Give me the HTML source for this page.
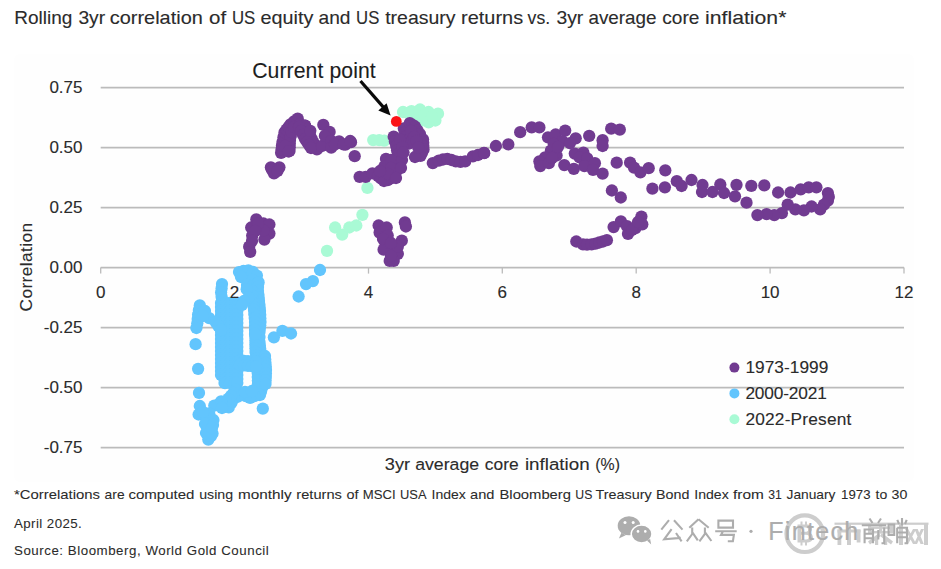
<!DOCTYPE html>
<html><head><meta charset="utf-8"><title>chart</title>
<style>html,body{margin:0;padding:0;background:#fff;width:941px;height:569px;overflow:hidden;font-family:"Liberation Sans",sans-serif}</style>
</head><body>
<svg width="941" height="569" viewBox="0 0 941 569" style="display:block;position:absolute;left:0;top:0" font-family="Liberation Sans, sans-serif" fill="#2b2b2b">
<style>text{stroke:#2b2b2b;stroke-width:0.12px}</style>
<rect width="941" height="569" fill="#ffffff"/>
<rect x="14" y="54" width="900" height="428" rx="6" fill="#fefefe"/>
<g stroke="#bbbbbb" stroke-width="1.75" fill="none">
<line x1="100.7" y1="87.6" x2="904.0" y2="87.6"/>
<line x1="100.7" y1="147.62" x2="904.0" y2="147.62"/>
<line x1="100.7" y1="207.64" x2="904.0" y2="207.64"/>
<line x1="100.7" y1="267.66" x2="904.0" y2="267.66"/>
<line x1="100.7" y1="327.68" x2="904.0" y2="327.68"/>
<line x1="100.7" y1="387.7" x2="904.0" y2="387.7"/>
<line x1="100.7" y1="447.72" x2="904.0" y2="447.72"/>
<line x1="100.7" y1="267.6" x2="100.7" y2="273.6" stroke-width="1.3"/>
<line x1="234.6" y1="267.6" x2="234.6" y2="273.6" stroke-width="1.3"/>
<line x1="368.5" y1="267.6" x2="368.5" y2="273.6" stroke-width="1.3"/>
<line x1="502.3" y1="267.6" x2="502.3" y2="273.6" stroke-width="1.3"/>
<line x1="636.2" y1="267.6" x2="636.2" y2="273.6" stroke-width="1.3"/>
<line x1="770.1" y1="267.6" x2="770.1" y2="273.6" stroke-width="1.3"/>
<line x1="904.0" y1="267.6" x2="904.0" y2="273.6" stroke-width="1.3"/>
</g>
<g fill="#a9fad5"><circle cx="403.0" cy="112.0" r="6.15"/>
<circle cx="411.5" cy="111.2" r="6.15"/>
<circle cx="420.0" cy="109.5" r="6.15"/>
<circle cx="428.6" cy="112.0" r="6.15"/>
<circle cx="438.0" cy="113.7" r="6.15"/>
<circle cx="435.4" cy="120.5" r="6.15"/>
<circle cx="428.6" cy="122.3" r="6.15"/>
<circle cx="421.8" cy="120.5" r="6.15"/>
<circle cx="415.0" cy="116.0" r="6.15"/>
<circle cx="424.0" cy="115.0" r="6.15"/>
<circle cx="432.0" cy="116.0" r="6.15"/>
<circle cx="408.0" cy="113.0" r="6.15"/>
<circle cx="373.2" cy="140.1" r="6.15"/>
<circle cx="379.2" cy="140.1" r="6.15"/>
<circle cx="384.3" cy="140.6" r="6.15"/>
<circle cx="367.4" cy="187.9" r="6.15"/>
<circle cx="362.4" cy="214.8" r="6.15"/>
<circle cx="335.1" cy="227.5" r="6.15"/>
<circle cx="342.2" cy="234.6" r="6.15"/>
<circle cx="349.3" cy="227.5" r="6.15"/>
<circle cx="356.3" cy="225.5" r="6.15"/>
<circle cx="327.0" cy="250.8" r="6.15"/></g>
<g fill="#62c5fd"><circle cx="320.0" cy="270.0" r="6.15"/>
<circle cx="312.9" cy="281.1" r="6.15"/>
<circle cx="306.0" cy="284.1" r="6.15"/>
<circle cx="298.6" cy="296.5" r="6.15"/>
<circle cx="273.9" cy="337.3" r="6.15"/>
<circle cx="282.4" cy="330.9" r="6.15"/>
<circle cx="291.0" cy="333.5" r="6.15"/>
<circle cx="262.8" cy="408.6" r="6.15"/>
<circle cx="239.0" cy="272.1" r="6.15"/>
<circle cx="243.5" cy="271.0" r="6.15"/>
<circle cx="248.4" cy="270.4" r="6.15"/>
<circle cx="253.0" cy="272.0" r="6.15"/>
<circle cx="256.9" cy="275.6" r="6.15"/>
<circle cx="246.7" cy="279.0" r="6.15"/>
<circle cx="252.0" cy="280.0" r="6.15"/>
<circle cx="258.6" cy="282.4" r="6.15"/>
<circle cx="241.0" cy="277.0" r="6.15"/>
<circle cx="247.0" cy="285.0" r="6.15"/>
<circle cx="253.0" cy="286.0" r="6.15"/>
<circle cx="258.0" cy="283.0" r="6.15"/>
<circle cx="258.0" cy="287.0" r="6.15"/>
<circle cx="258.0" cy="291.0" r="6.15"/>
<circle cx="258.3" cy="294.3" r="6.15"/>
<circle cx="258.7" cy="297.7" r="6.15"/>
<circle cx="259.0" cy="301.0" r="6.15"/>
<circle cx="259.3" cy="304.3" r="6.15"/>
<circle cx="259.7" cy="307.7" r="6.15"/>
<circle cx="260.0" cy="311.0" r="6.15"/>
<circle cx="260.2" cy="314.7" r="6.15"/>
<circle cx="260.3" cy="318.3" r="6.15"/>
<circle cx="260.5" cy="322.0" r="6.15"/>
<circle cx="260.2" cy="325.3" r="6.15"/>
<circle cx="259.8" cy="328.7" r="6.15"/>
<circle cx="259.5" cy="332.0" r="6.15"/>
<circle cx="259.5" cy="337.0" r="6.15"/>
<circle cx="259.5" cy="342.0" r="6.15"/>
<circle cx="259.8" cy="345.3" r="6.15"/>
<circle cx="260.2" cy="348.7" r="6.15"/>
<circle cx="260.5" cy="352.0" r="6.15"/>
<circle cx="261.2" cy="356.0" r="6.15"/>
<circle cx="262.0" cy="360.0" r="6.15"/>
<circle cx="262.7" cy="363.3" r="6.15"/>
<circle cx="263.3" cy="366.7" r="6.15"/>
<circle cx="264.0" cy="370.0" r="6.15"/>
<circle cx="264.0" cy="375.0" r="6.15"/>
<circle cx="264.0" cy="380.0" r="6.15"/>
<circle cx="263.0" cy="384.0" r="6.15"/>
<circle cx="262.0" cy="388.0" r="6.15"/>
<circle cx="261.0" cy="391.5" r="6.15"/>
<circle cx="260.0" cy="395.0" r="6.15"/>
<circle cx="255.3" cy="333.0" r="6.15"/>
<circle cx="255.3" cy="336.8" r="6.15"/>
<circle cx="255.4" cy="340.6" r="6.15"/>
<circle cx="255.4" cy="344.4" r="6.15"/>
<circle cx="255.5" cy="348.2" r="6.15"/>
<circle cx="255.5" cy="352.0" r="6.15"/>
<circle cx="256.2" cy="355.3" r="6.15"/>
<circle cx="256.8" cy="358.7" r="6.15"/>
<circle cx="257.5" cy="362.0" r="6.15"/>
<circle cx="257.6" cy="365.7" r="6.15"/>
<circle cx="257.6" cy="369.4" r="6.15"/>
<circle cx="257.7" cy="373.1" r="6.15"/>
<circle cx="257.8" cy="376.9" r="6.15"/>
<circle cx="257.9" cy="380.6" r="6.15"/>
<circle cx="257.9" cy="384.3" r="6.15"/>
<circle cx="258.0" cy="388.0" r="6.15"/>
<circle cx="265.0" cy="356.0" r="6.15"/>
<circle cx="265.2" cy="359.5" r="6.15"/>
<circle cx="265.5" cy="363.0" r="6.15"/>
<circle cx="265.8" cy="366.5" r="6.15"/>
<circle cx="266.0" cy="370.0" r="6.15"/>
<circle cx="265.9" cy="373.5" r="6.15"/>
<circle cx="265.8" cy="377.0" r="6.15"/>
<circle cx="265.6" cy="380.5" r="6.15"/>
<circle cx="265.5" cy="384.0" r="6.15"/>
<circle cx="252.0" cy="291.0" r="6.15"/>
<circle cx="252.5" cy="295.5" r="6.15"/>
<circle cx="253.0" cy="300.0" r="6.15"/>
<circle cx="253.3" cy="303.3" r="6.15"/>
<circle cx="253.7" cy="306.7" r="6.15"/>
<circle cx="254.0" cy="310.0" r="6.15"/>
<circle cx="254.3" cy="314.0" r="6.15"/>
<circle cx="254.7" cy="318.0" r="6.15"/>
<circle cx="255.0" cy="322.0" r="6.15"/>
<circle cx="255.0" cy="326.0" r="6.15"/>
<circle cx="255.0" cy="330.0" r="6.15"/>
<circle cx="255.0" cy="334.0" r="6.15"/>
<circle cx="246.7" cy="289.2" r="6.15"/>
<circle cx="248.4" cy="297.7" r="6.15"/>
<circle cx="239.8" cy="304.5" r="6.15"/>
<circle cx="229.6" cy="306.2" r="6.15"/>
<circle cx="244.0" cy="301.0" r="6.15"/>
<circle cx="235.0" cy="305.0" r="6.15"/>
<circle cx="222.0" cy="284.1" r="6.15"/>
<circle cx="221.6" cy="288.4" r="6.15"/>
<circle cx="221.1" cy="292.6" r="6.15"/>
<circle cx="221.6" cy="296.8" r="6.15"/>
<circle cx="222.0" cy="301.0" r="6.15"/>
<circle cx="199.8" cy="305.4" r="6.15"/>
<circle cx="198.9" cy="310.0" r="6.15"/>
<circle cx="198.1" cy="314.7" r="6.15"/>
<circle cx="197.7" cy="319.0" r="6.15"/>
<circle cx="197.3" cy="323.3" r="6.15"/>
<circle cx="196.4" cy="328.0" r="6.15"/>
<circle cx="205.0" cy="311.0" r="6.15"/>
<circle cx="209.2" cy="318.1" r="6.15"/>
<circle cx="203.0" cy="316.0" r="6.15"/>
<circle cx="195.6" cy="344.2" r="6.15"/>
<circle cx="198.1" cy="368.8" r="6.15"/>
<circle cx="199.0" cy="392.9" r="6.15"/>
<circle cx="199.8" cy="406.0" r="6.15"/>
<circle cx="198.6" cy="414.5" r="6.15"/>
<circle cx="221.0" cy="303.0" r="6.15"/>
<circle cx="225.5" cy="303.0" r="6.15"/>
<circle cx="230.0" cy="303.0" r="6.15"/>
<circle cx="234.5" cy="303.0" r="6.15"/>
<circle cx="237.3" cy="303.0" r="6.15"/>
<circle cx="221.0" cy="307.0" r="6.15"/>
<circle cx="225.5" cy="307.0" r="6.15"/>
<circle cx="230.0" cy="307.0" r="6.15"/>
<circle cx="234.5" cy="307.0" r="6.15"/>
<circle cx="237.3" cy="307.0" r="6.15"/>
<circle cx="221.0" cy="311.0" r="6.15"/>
<circle cx="225.5" cy="311.0" r="6.15"/>
<circle cx="230.0" cy="311.0" r="6.15"/>
<circle cx="234.5" cy="311.0" r="6.15"/>
<circle cx="237.3" cy="311.0" r="6.15"/>
<circle cx="221.0" cy="315.0" r="6.15"/>
<circle cx="225.5" cy="315.0" r="6.15"/>
<circle cx="230.0" cy="315.0" r="6.15"/>
<circle cx="234.5" cy="315.0" r="6.15"/>
<circle cx="237.3" cy="315.0" r="6.15"/>
<circle cx="221.0" cy="319.0" r="6.15"/>
<circle cx="225.5" cy="319.0" r="6.15"/>
<circle cx="230.0" cy="319.0" r="6.15"/>
<circle cx="234.5" cy="319.0" r="6.15"/>
<circle cx="237.3" cy="319.0" r="6.15"/>
<circle cx="221.0" cy="323.0" r="6.15"/>
<circle cx="225.5" cy="323.0" r="6.15"/>
<circle cx="230.0" cy="323.0" r="6.15"/>
<circle cx="234.5" cy="323.0" r="6.15"/>
<circle cx="237.3" cy="323.0" r="6.15"/>
<circle cx="221.0" cy="327.0" r="6.15"/>
<circle cx="225.5" cy="327.0" r="6.15"/>
<circle cx="230.0" cy="327.0" r="6.15"/>
<circle cx="234.5" cy="327.0" r="6.15"/>
<circle cx="237.3" cy="327.0" r="6.15"/>
<circle cx="221.0" cy="331.0" r="6.15"/>
<circle cx="225.5" cy="331.0" r="6.15"/>
<circle cx="230.0" cy="331.0" r="6.15"/>
<circle cx="234.5" cy="331.0" r="6.15"/>
<circle cx="237.3" cy="331.0" r="6.15"/>
<circle cx="221.0" cy="335.0" r="6.15"/>
<circle cx="225.5" cy="335.0" r="6.15"/>
<circle cx="230.0" cy="335.0" r="6.15"/>
<circle cx="234.5" cy="335.0" r="6.15"/>
<circle cx="237.3" cy="335.0" r="6.15"/>
<circle cx="221.0" cy="339.0" r="6.15"/>
<circle cx="225.5" cy="339.0" r="6.15"/>
<circle cx="230.0" cy="339.0" r="6.15"/>
<circle cx="234.5" cy="339.0" r="6.15"/>
<circle cx="237.3" cy="339.0" r="6.15"/>
<circle cx="221.0" cy="343.0" r="6.15"/>
<circle cx="225.5" cy="343.0" r="6.15"/>
<circle cx="230.0" cy="343.0" r="6.15"/>
<circle cx="234.5" cy="343.0" r="6.15"/>
<circle cx="237.3" cy="343.0" r="6.15"/>
<circle cx="221.0" cy="347.0" r="6.15"/>
<circle cx="225.5" cy="347.0" r="6.15"/>
<circle cx="230.0" cy="347.0" r="6.15"/>
<circle cx="234.5" cy="347.0" r="6.15"/>
<circle cx="237.3" cy="347.0" r="6.15"/>
<circle cx="221.0" cy="351.0" r="6.15"/>
<circle cx="225.5" cy="351.0" r="6.15"/>
<circle cx="230.0" cy="351.0" r="6.15"/>
<circle cx="234.5" cy="351.0" r="6.15"/>
<circle cx="237.3" cy="351.0" r="6.15"/>
<circle cx="221.0" cy="355.0" r="6.15"/>
<circle cx="225.5" cy="355.0" r="6.15"/>
<circle cx="230.0" cy="355.0" r="6.15"/>
<circle cx="234.5" cy="355.0" r="6.15"/>
<circle cx="237.3" cy="355.0" r="6.15"/>
<circle cx="221.0" cy="359.0" r="6.15"/>
<circle cx="225.5" cy="359.0" r="6.15"/>
<circle cx="230.0" cy="359.0" r="6.15"/>
<circle cx="234.5" cy="359.0" r="6.15"/>
<circle cx="237.3" cy="359.0" r="6.15"/>
<circle cx="221.0" cy="363.0" r="6.15"/>
<circle cx="225.5" cy="363.0" r="6.15"/>
<circle cx="230.0" cy="363.0" r="6.15"/>
<circle cx="234.5" cy="363.0" r="6.15"/>
<circle cx="237.3" cy="363.0" r="6.15"/>
<circle cx="221.0" cy="367.0" r="6.15"/>
<circle cx="225.5" cy="367.0" r="6.15"/>
<circle cx="230.0" cy="367.0" r="6.15"/>
<circle cx="234.5" cy="367.0" r="6.15"/>
<circle cx="237.3" cy="367.0" r="6.15"/>
<circle cx="221.0" cy="371.0" r="6.15"/>
<circle cx="225.5" cy="371.0" r="6.15"/>
<circle cx="230.0" cy="371.0" r="6.15"/>
<circle cx="234.5" cy="371.0" r="6.15"/>
<circle cx="237.3" cy="371.0" r="6.15"/>
<circle cx="221.0" cy="375.0" r="6.15"/>
<circle cx="225.5" cy="375.0" r="6.15"/>
<circle cx="230.0" cy="375.0" r="6.15"/>
<circle cx="234.5" cy="375.0" r="6.15"/>
<circle cx="237.3" cy="375.0" r="6.15"/>
<circle cx="224.5" cy="379.0" r="6.15"/>
<circle cx="225.5" cy="379.0" r="6.15"/>
<circle cx="230.0" cy="379.0" r="6.15"/>
<circle cx="234.5" cy="379.0" r="6.15"/>
<circle cx="237.3" cy="379.0" r="6.15"/>
<circle cx="224.5" cy="383.0" r="6.15"/>
<circle cx="225.5" cy="383.0" r="6.15"/>
<circle cx="230.0" cy="383.0" r="6.15"/>
<circle cx="234.5" cy="383.0" r="6.15"/>
<circle cx="237.3" cy="383.0" r="6.15"/>
<circle cx="215.5" cy="322.0" r="6.15"/>
<circle cx="218.2" cy="326.0" r="6.15"/>
<circle cx="221.0" cy="330.0" r="6.15"/>
<circle cx="242.0" cy="305.0" r="6.15"/>
<circle cx="240.0" cy="360.5" r="6.15"/>
<circle cx="244.0" cy="360.9" r="6.15"/>
<circle cx="248.0" cy="361.2" r="6.15"/>
<circle cx="252.0" cy="361.6" r="6.15"/>
<circle cx="256.0" cy="362.0" r="6.15"/>
<circle cx="240.0" cy="365.0" r="6.15"/>
<circle cx="244.0" cy="365.4" r="6.15"/>
<circle cx="248.0" cy="365.8" r="6.15"/>
<circle cx="252.0" cy="366.1" r="6.15"/>
<circle cx="256.0" cy="366.5" r="6.15"/>
<circle cx="258.6" cy="394.5" r="6.15"/>
<circle cx="254.4" cy="396.2" r="6.15"/>
<circle cx="250.1" cy="397.9" r="6.15"/>
<circle cx="245.8" cy="396.2" r="6.15"/>
<circle cx="241.6" cy="394.5" r="6.15"/>
<circle cx="237.8" cy="396.6" r="6.15"/>
<circle cx="233.9" cy="398.7" r="6.15"/>
<circle cx="231.4" cy="403.0" r="6.15"/>
<circle cx="228.8" cy="407.3" r="6.15"/>
<circle cx="236.0" cy="390.0" r="6.15"/>
<circle cx="233.5" cy="392.9" r="6.15"/>
<circle cx="231.0" cy="395.8" r="6.15"/>
<circle cx="228.5" cy="398.6" r="6.15"/>
<circle cx="226.0" cy="401.5" r="6.15"/>
<circle cx="221.8" cy="403.2" r="6.15"/>
<circle cx="217.7" cy="405.0" r="6.15"/>
<circle cx="214.3" cy="405.6" r="6.15"/>
<circle cx="221.1" cy="401.3" r="6.15"/>
<circle cx="209.2" cy="413.5" r="6.15"/>
<circle cx="206.6" cy="419.2" r="6.15"/>
<circle cx="213.4" cy="420.0" r="6.15"/>
<circle cx="207.5" cy="428.6" r="6.15"/>
<circle cx="210.9" cy="431.1" r="6.15"/>
<circle cx="208.3" cy="439.6" r="6.15"/>
<circle cx="210.9" cy="436.2" r="6.15"/>
<circle cx="203.0" cy="412.0" r="6.15"/>
<circle cx="210.0" cy="424.0" r="6.15"/>
<circle cx="222.0" cy="408.0" r="6.15"/>
<circle cx="245.0" cy="392.0" r="6.15"/>
<circle cx="252.0" cy="391.0" r="6.15"/>
<circle cx="205.0" cy="424.0" r="6.15"/>
<circle cx="213.0" cy="425.0" r="6.15"/>
<circle cx="206.0" cy="433.0" r="6.15"/>
<circle cx="212.5" cy="433.5" r="6.15"/>
<circle cx="212.0" cy="428.0" r="6.15"/></g>
<g fill="#713b91"><circle cx="270.9" cy="167.3" r="6.15"/>
<circle cx="279.4" cy="167.3" r="6.15"/>
<circle cx="274.0" cy="173.3" r="6.15"/>
<circle cx="272.0" cy="170.0" r="6.15"/>
<circle cx="277.5" cy="171.0" r="6.15"/>
<circle cx="281.1" cy="152.8" r="6.15"/>
<circle cx="281.6" cy="149.2" r="6.15"/>
<circle cx="282.0" cy="145.6" r="6.15"/>
<circle cx="282.5" cy="142.0" r="6.15"/>
<circle cx="283.5" cy="137.2" r="6.15"/>
<circle cx="284.5" cy="132.4" r="6.15"/>
<circle cx="286.5" cy="129.7" r="6.15"/>
<circle cx="288.5" cy="127.0" r="6.15"/>
<circle cx="290.5" cy="124.3" r="6.15"/>
<circle cx="294.1" cy="121.4" r="6.15"/>
<circle cx="297.7" cy="118.6" r="6.15"/>
<circle cx="289.5" cy="151.0" r="6.15"/>
<circle cx="289.7" cy="147.3" r="6.15"/>
<circle cx="289.8" cy="143.7" r="6.15"/>
<circle cx="290.0" cy="140.0" r="6.15"/>
<circle cx="290.8" cy="136.0" r="6.15"/>
<circle cx="291.5" cy="132.0" r="6.15"/>
<circle cx="285.0" cy="146.0" r="6.15"/>
<circle cx="288.5" cy="151.5" r="6.15"/>
<circle cx="294.0" cy="127.0" r="6.15"/>
<circle cx="300.0" cy="124.0" r="6.15"/>
<circle cx="305.0" cy="125.6" r="6.15"/>
<circle cx="305.0" cy="125.6" r="6.15"/>
<circle cx="306.7" cy="129.0" r="6.15"/>
<circle cx="308.4" cy="132.4" r="6.15"/>
<circle cx="310.1" cy="135.8" r="6.15"/>
<circle cx="311.8" cy="139.2" r="6.15"/>
<circle cx="313.5" cy="142.6" r="6.15"/>
<circle cx="315.2" cy="146.0" r="6.15"/>
<circle cx="316.9" cy="149.4" r="6.15"/>
<circle cx="299.0" cy="127.0" r="6.15"/>
<circle cx="301.0" cy="131.0" r="6.15"/>
<circle cx="303.0" cy="135.0" r="6.15"/>
<circle cx="305.0" cy="139.0" r="6.15"/>
<circle cx="307.0" cy="142.0" r="6.15"/>
<circle cx="309.0" cy="145.0" r="6.15"/>
<circle cx="311.0" cy="148.0" r="6.15"/>
<circle cx="322.0" cy="146.0" r="6.15"/>
<circle cx="310.3" cy="130.8" r="6.15"/>
<circle cx="323.3" cy="124.8" r="6.15"/>
<circle cx="329.6" cy="131.9" r="6.15"/>
<circle cx="324.9" cy="135.9" r="6.15"/>
<circle cx="331.2" cy="140.9" r="6.15"/>
<circle cx="331.2" cy="147.7" r="6.15"/>
<circle cx="339.1" cy="141.4" r="6.15"/>
<circle cx="345.4" cy="144.6" r="6.15"/>
<circle cx="351.0" cy="142.2" r="6.15"/>
<circle cx="335.0" cy="144.5" r="6.15"/>
<circle cx="354.7" cy="156.2" r="6.15"/>
<circle cx="343.4" cy="144.4" r="6.15"/>
<circle cx="350.2" cy="141.0" r="6.15"/>
<circle cx="359.6" cy="176.8" r="6.15"/>
<circle cx="365.6" cy="176.8" r="6.15"/>
<circle cx="372.4" cy="173.4" r="6.15"/>
<circle cx="378.0" cy="176.0" r="6.15"/>
<circle cx="380.9" cy="178.5" r="6.15"/>
<circle cx="387.7" cy="180.2" r="6.15"/>
<circle cx="384.0" cy="181.0" r="6.15"/>
<circle cx="392.0" cy="178.0" r="6.15"/>
<circle cx="393.7" cy="136.7" r="6.15"/>
<circle cx="394.9" cy="141.4" r="6.15"/>
<circle cx="396.2" cy="146.1" r="6.15"/>
<circle cx="397.1" cy="150.3" r="6.15"/>
<circle cx="398.0" cy="154.6" r="6.15"/>
<circle cx="397.5" cy="158.8" r="6.15"/>
<circle cx="397.0" cy="163.0" r="6.15"/>
<circle cx="396.5" cy="167.5" r="6.15"/>
<circle cx="396.0" cy="172.0" r="6.15"/>
<circle cx="386.0" cy="158.9" r="6.15"/>
<circle cx="384.3" cy="166.5" r="6.15"/>
<circle cx="391.0" cy="160.0" r="6.15"/>
<circle cx="391.0" cy="168.0" r="6.15"/>
<circle cx="388.0" cy="174.0" r="6.15"/>
<circle cx="380.0" cy="171.0" r="6.15"/>
<circle cx="402.0" cy="160.0" r="6.15"/>
<circle cx="401.0" cy="168.0" r="6.15"/>
<circle cx="396.0" cy="178.0" r="6.15"/>
<circle cx="403.8" cy="128.5" r="6.15"/>
<circle cx="405.0" cy="132.4" r="6.15"/>
<circle cx="406.2" cy="136.4" r="6.15"/>
<circle cx="407.8" cy="139.9" r="6.15"/>
<circle cx="409.3" cy="143.5" r="6.15"/>
<circle cx="409.8" cy="123.1" r="6.15"/>
<circle cx="412.4" cy="124.8" r="6.15"/>
<circle cx="415.0" cy="126.5" r="6.15"/>
<circle cx="417.5" cy="130.3" r="6.15"/>
<circle cx="420.0" cy="134.2" r="6.15"/>
<circle cx="423.0" cy="139.3" r="6.15"/>
<circle cx="423.2" cy="142.7" r="6.15"/>
<circle cx="423.3" cy="146.1" r="6.15"/>
<circle cx="423.5" cy="149.5" r="6.15"/>
<circle cx="422.0" cy="152.7" r="6.15"/>
<circle cx="420.5" cy="155.8" r="6.15"/>
<circle cx="415.0" cy="157.0" r="6.15"/>
<circle cx="411.0" cy="131.0" r="6.15"/>
<circle cx="414.0" cy="137.0" r="6.15"/>
<circle cx="400.0" cy="139.5" r="6.15"/>
<circle cx="402.5" cy="147.0" r="6.15"/>
<circle cx="416.5" cy="141.0" r="6.15"/>
<circle cx="418.3" cy="147.5" r="6.15"/>
<circle cx="403.5" cy="152.5" r="6.15"/>
<circle cx="432.8" cy="163.1" r="6.15"/>
<circle cx="438.8" cy="160.6" r="6.15"/>
<circle cx="443.0" cy="159.5" r="6.15"/>
<circle cx="447.3" cy="158.9" r="6.15"/>
<circle cx="451.5" cy="160.0" r="6.15"/>
<circle cx="455.8" cy="161.4" r="6.15"/>
<circle cx="460.5" cy="161.8" r="6.15"/>
<circle cx="465.2" cy="161.4" r="6.15"/>
<circle cx="472.9" cy="156.3" r="6.15"/>
<circle cx="478.0" cy="155.0" r="6.15"/>
<circle cx="484.0" cy="152.9" r="6.15"/>
<circle cx="484.2" cy="153.2" r="6.15"/>
<circle cx="495.9" cy="146.0" r="6.15"/>
<circle cx="508.3" cy="144.4" r="6.15"/>
<circle cx="520.2" cy="132.2" r="6.15"/>
<circle cx="531.7" cy="127.4" r="6.15"/>
<circle cx="539.4" cy="127.4" r="6.15"/>
<circle cx="548.0" cy="137.3" r="6.15"/>
<circle cx="555.6" cy="134.5" r="6.15"/>
<circle cx="565.2" cy="130.6" r="6.15"/>
<circle cx="562.3" cy="141.2" r="6.15"/>
<circle cx="553.7" cy="144.0" r="6.15"/>
<circle cx="575.7" cy="138.3" r="6.15"/>
<circle cx="570.0" cy="143.1" r="6.15"/>
<circle cx="589.2" cy="135.8" r="6.15"/>
<circle cx="602.6" cy="140.2" r="6.15"/>
<circle cx="602.6" cy="146.0" r="6.15"/>
<circle cx="611.2" cy="128.7" r="6.15"/>
<circle cx="619.8" cy="129.7" r="6.15"/>
<circle cx="550.9" cy="150.7" r="6.15"/>
<circle cx="556.6" cy="155.5" r="6.15"/>
<circle cx="545.1" cy="157.4" r="6.15"/>
<circle cx="539.4" cy="161.3" r="6.15"/>
<circle cx="540.3" cy="166.1" r="6.15"/>
<circle cx="548.9" cy="163.2" r="6.15"/>
<circle cx="574.8" cy="153.6" r="6.15"/>
<circle cx="583.4" cy="152.7" r="6.15"/>
<circle cx="579.6" cy="157.4" r="6.15"/>
<circle cx="587.2" cy="158.4" r="6.15"/>
<circle cx="564.3" cy="165.1" r="6.15"/>
<circle cx="573.8" cy="168.9" r="6.15"/>
<circle cx="584.4" cy="166.1" r="6.15"/>
<circle cx="594.9" cy="163.2" r="6.15"/>
<circle cx="593.0" cy="169.9" r="6.15"/>
<circle cx="602.6" cy="173.7" r="6.15"/>
<circle cx="616.7" cy="162.7" r="6.15"/>
<circle cx="630.1" cy="162.7" r="6.15"/>
<circle cx="634.0" cy="167.6" r="6.15"/>
<circle cx="640.4" cy="172.3" r="6.15"/>
<circle cx="648.7" cy="168.2" r="6.15"/>
<circle cx="665.3" cy="170.3" r="6.15"/>
<circle cx="611.9" cy="190.5" r="6.15"/>
<circle cx="620.8" cy="197.5" r="6.15"/>
<circle cx="652.4" cy="188.7" r="6.15"/>
<circle cx="664.9" cy="187.3" r="6.15"/>
<circle cx="558.0" cy="147.0" r="6.15"/>
<circle cx="552.0" cy="158.0" r="6.15"/>
<circle cx="676.8" cy="181.2" r="6.15"/>
<circle cx="681.6" cy="186.0" r="6.15"/>
<circle cx="691.5" cy="180.0" r="6.15"/>
<circle cx="702.5" cy="185.0" r="6.15"/>
<circle cx="702.0" cy="192.0" r="6.15"/>
<circle cx="712.5" cy="192.0" r="6.15"/>
<circle cx="720.3" cy="184.5" r="6.15"/>
<circle cx="724.0" cy="193.0" r="6.15"/>
<circle cx="736.5" cy="184.8" r="6.15"/>
<circle cx="735.0" cy="196.3" r="6.15"/>
<circle cx="751.3" cy="185.8" r="6.15"/>
<circle cx="764.3" cy="185.4" r="6.15"/>
<circle cx="746.5" cy="202.7" r="6.15"/>
<circle cx="778.1" cy="192.5" r="6.15"/>
<circle cx="790.5" cy="192.5" r="6.15"/>
<circle cx="800.7" cy="189.3" r="6.15"/>
<circle cx="808.7" cy="187.3" r="6.15"/>
<circle cx="816.4" cy="187.3" r="6.15"/>
<circle cx="827.9" cy="193.1" r="6.15"/>
<circle cx="828.8" cy="196.9" r="6.15"/>
<circle cx="827.9" cy="200.7" r="6.15"/>
<circle cx="824.0" cy="204.6" r="6.15"/>
<circle cx="820.2" cy="209.4" r="6.15"/>
<circle cx="811.6" cy="206.5" r="6.15"/>
<circle cx="803.9" cy="210.3" r="6.15"/>
<circle cx="795.3" cy="209.4" r="6.15"/>
<circle cx="787.7" cy="204.6" r="6.15"/>
<circle cx="781.9" cy="213.2" r="6.15"/>
<circle cx="774.3" cy="215.1" r="6.15"/>
<circle cx="766.6" cy="214.2" r="6.15"/>
<circle cx="757.4" cy="215.1" r="6.15"/>
<circle cx="576.3" cy="241.5" r="6.15"/>
<circle cx="583.0" cy="244.4" r="6.15"/>
<circle cx="587.0" cy="244.6" r="6.15"/>
<circle cx="591.6" cy="244.4" r="6.15"/>
<circle cx="595.5" cy="243.6" r="6.15"/>
<circle cx="599.3" cy="242.5" r="6.15"/>
<circle cx="603.0" cy="241.5" r="6.15"/>
<circle cx="606.9" cy="240.2" r="6.15"/>
<circle cx="613.6" cy="227.1" r="6.15"/>
<circle cx="620.9" cy="221.4" r="6.15"/>
<circle cx="627.0" cy="226.2" r="6.15"/>
<circle cx="628.0" cy="233.8" r="6.15"/>
<circle cx="635.6" cy="228.1" r="6.15"/>
<circle cx="641.4" cy="216.6" r="6.15"/>
<circle cx="642.3" cy="224.3" r="6.15"/>
<circle cx="632.0" cy="230.0" r="6.15"/>
<circle cx="638.0" cy="222.0" r="6.15"/>
<circle cx="256.3" cy="219.4" r="6.15"/>
<circle cx="251.2" cy="227.5" r="6.15"/>
<circle cx="252.2" cy="235.6" r="6.15"/>
<circle cx="249.2" cy="246.7" r="6.15"/>
<circle cx="250.2" cy="251.8" r="6.15"/>
<circle cx="263.4" cy="223.5" r="6.15"/>
<circle cx="269.4" cy="224.5" r="6.15"/>
<circle cx="269.4" cy="233.6" r="6.15"/>
<circle cx="264.4" cy="239.6" r="6.15"/>
<circle cx="263.4" cy="230.5" r="6.15"/>
<circle cx="258.0" cy="224.0" r="6.15"/>
<circle cx="255.0" cy="231.0" r="6.15"/>
<circle cx="252.0" cy="241.0" r="6.15"/>
<circle cx="378.6" cy="225.5" r="6.15"/>
<circle cx="379.6" cy="232.6" r="6.15"/>
<circle cx="386.7" cy="227.5" r="6.15"/>
<circle cx="387.7" cy="235.6" r="6.15"/>
<circle cx="385.6" cy="244.7" r="6.15"/>
<circle cx="383.6" cy="249.7" r="6.15"/>
<circle cx="391.7" cy="250.8" r="6.15"/>
<circle cx="397.8" cy="253.8" r="6.15"/>
<circle cx="389.7" cy="260.9" r="6.15"/>
<circle cx="393.7" cy="260.9" r="6.15"/>
<circle cx="401.8" cy="240.6" r="6.15"/>
<circle cx="404.9" cy="222.4" r="6.15"/>
<circle cx="405.9" cy="226.5" r="6.15"/>
<circle cx="397.8" cy="246.7" r="6.15"/>
<circle cx="383.0" cy="239.0" r="6.15"/>
<circle cx="391.0" cy="243.0" r="6.15"/>
<circle cx="391.0" cy="256.0" r="6.15"/></g>
<circle cx="396.3" cy="121.4" r="5.4" fill="#fb1418"/>
<g font-size="17" text-anchor="end">
<text x="82.5" y="92.8">0.75</text>
<text x="82.5" y="152.8">0.50</text>
<text x="82.5" y="212.8">0.25</text>
<text x="82.5" y="272.9">0.00</text>
<text x="82.5" y="332.9">-0.25</text>
<text x="82.5" y="392.9">-0.50</text>
<text x="82.5" y="452.9">-0.75</text>
</g>
<g font-size="17" text-anchor="middle">
<text x="100.7" y="298.3">0</text>
<text x="234.6" y="298.3">2</text>
<text x="368.5" y="298.3">4</text>
<text x="502.3" y="298.3">6</text>
<text x="636.2" y="298.3">8</text>
<text x="770.1" y="298.3">10</text>
<text x="904.0" y="298.3">12</text>
</g>
<text transform="translate(31.6,267.2) rotate(-90)" font-size="17.2" text-anchor="middle" textLength="88.5" lengthAdjust="spacing">Correlation</text>
<text x="384.8" y="469.8" font-size="16.8" textLength="25.2" lengthAdjust="spacingAndGlyphs">3yr</text>
<text x="415.2" y="469.8" font-size="16.8" textLength="63.9" lengthAdjust="spacingAndGlyphs">average</text>
<text x="484.8" y="469.8" font-size="16.8" textLength="33.8" lengthAdjust="spacingAndGlyphs">core</text>
<text x="524.9" y="469.8" font-size="16.8" textLength="64.7" lengthAdjust="spacingAndGlyphs">inflation</text>
<text x="595.3" y="469.8" font-size="16.8" textLength="24.7" lengthAdjust="spacingAndGlyphs">(%)</text>
<text x="14.2" y="23.5" font-size="17.9" textLength="58.1" lengthAdjust="spacingAndGlyphs">Rolling</text>
<text x="78.4" y="23.5" font-size="17.9" textLength="26.7" lengthAdjust="spacingAndGlyphs">3yr</text>
<text x="109.8" y="23.5" font-size="17.9" textLength="93.0" lengthAdjust="spacingAndGlyphs">correlation</text>
<text x="209.1" y="23.5" font-size="17.9" textLength="17.1" lengthAdjust="spacingAndGlyphs">of</text>
<text x="232.0" y="23.5" font-size="17.9" textLength="23.3" lengthAdjust="spacingAndGlyphs">US</text>
<text x="260.5" y="23.5" font-size="17.9" textLength="52.8" lengthAdjust="spacingAndGlyphs">equity</text>
<text x="318.5" y="23.5" font-size="17.9" textLength="32.0" lengthAdjust="spacingAndGlyphs">and</text>
<text x="356.1" y="23.5" font-size="17.9" textLength="23.2" lengthAdjust="spacingAndGlyphs">US</text>
<text x="385.2" y="23.5" font-size="17.9" textLength="70.3" lengthAdjust="spacingAndGlyphs">treasury</text>
<text x="461.1" y="23.5" font-size="17.9" textLength="62.0" lengthAdjust="spacingAndGlyphs">returns</text>
<text x="527.6" y="23.5" font-size="17.9" textLength="22.5" lengthAdjust="spacingAndGlyphs">vs.</text>
<text x="556.4" y="23.5" font-size="17.9" textLength="26.9" lengthAdjust="spacingAndGlyphs">3yr</text>
<text x="588.5" y="23.5" font-size="17.9" textLength="68.0" lengthAdjust="spacingAndGlyphs">average</text>
<text x="662.3" y="23.5" font-size="17.9" textLength="37.1" lengthAdjust="spacingAndGlyphs">core</text>
<text x="705.1" y="23.5" font-size="17.9" textLength="81.3" lengthAdjust="spacingAndGlyphs">inflation*</text>
<text x="252.2" y="78.4" font-size="21.2" fill="#1c1c1c" textLength="123.5" lengthAdjust="spacing">Current point</text>
<line x1="360.5" y1="81" x2="385.5" y2="109.6" stroke="#0a0a0a" stroke-width="3.2"/>
<polygon points="390.6,115.4 378.3,110.6 386.6,103.3" fill="#0a0a0a"/>
<circle cx="734.4" cy="367.6" r="5" fill="#713b91"/>
<text x="745.4" y="373.4" font-size="17.3" textLength="83" lengthAdjust="spacing">1973-1999</text>
<circle cx="734.4" cy="393.4" r="5" fill="#62c5fd"/>
<text x="745.4" y="399.2" font-size="17.3" textLength="81.5" lengthAdjust="spacing">2000-2021</text>
<circle cx="734.4" cy="419.2" r="5" fill="#a9fad5"/>
<text x="745.4" y="425.0" font-size="17.3" textLength="106" lengthAdjust="spacing">2022-Present</text>
<g font-size="13.3">
<text x="14.0" y="499.4" font-size="13.3" textLength="86.0" lengthAdjust="spacingAndGlyphs" style="stroke-width:0.08px">*Correlations</text>
<text x="104.6" y="499.4" font-size="13.3" textLength="20.0" lengthAdjust="spacingAndGlyphs" style="stroke-width:0.08px">are</text>
<text x="128.4" y="499.4" font-size="13.3" textLength="66.1" lengthAdjust="spacingAndGlyphs" style="stroke-width:0.08px">computed</text>
<text x="199.2" y="499.4" font-size="13.3" textLength="33.9" lengthAdjust="spacingAndGlyphs" style="stroke-width:0.08px">using</text>
<text x="238.1" y="499.4" font-size="13.3" textLength="53.5" lengthAdjust="spacingAndGlyphs" style="stroke-width:0.08px">monthly</text>
<text x="296.3" y="499.4" font-size="13.3" textLength="45.6" lengthAdjust="spacingAndGlyphs" style="stroke-width:0.08px">returns</text>
<text x="346.5" y="499.4" font-size="13.3" textLength="12.0" lengthAdjust="spacingAndGlyphs" style="stroke-width:0.08px">of</text>
<text x="362.8" y="499.4" font-size="13.3" textLength="32.9" lengthAdjust="spacingAndGlyphs" style="stroke-width:0.08px">MSCI</text>
<text x="400.0" y="499.4" font-size="13.3" textLength="26.5" lengthAdjust="spacingAndGlyphs" style="stroke-width:0.08px">USA</text>
<text x="431.5" y="499.4" font-size="13.3" textLength="34.3" lengthAdjust="spacingAndGlyphs" style="stroke-width:0.08px">Index</text>
<text x="470.1" y="499.4" font-size="13.3" textLength="24.4" lengthAdjust="spacingAndGlyphs" style="stroke-width:0.08px">and</text>
<text x="499.5" y="499.4" font-size="13.3" textLength="71.5" lengthAdjust="spacingAndGlyphs" style="stroke-width:0.08px">Bloomberg</text>
<text x="575.3" y="499.4" font-size="13.3" textLength="17.0" lengthAdjust="spacingAndGlyphs" style="stroke-width:0.08px">US</text>
<text x="595.5" y="499.4" font-size="13.3" textLength="56.3" lengthAdjust="spacingAndGlyphs" style="stroke-width:0.08px">Treasury</text>
<text x="656.1" y="499.4" font-size="13.3" textLength="33.3" lengthAdjust="spacingAndGlyphs" style="stroke-width:0.08px">Bond</text>
<text x="694.3" y="499.4" font-size="13.3" textLength="34.4" lengthAdjust="spacingAndGlyphs" style="stroke-width:0.08px">Index</text>
<text x="733.0" y="499.4" font-size="13.3" textLength="30.8" lengthAdjust="spacingAndGlyphs" style="stroke-width:0.08px">from</text>
<text x="768.2" y="499.4" font-size="13.3" textLength="13.6" lengthAdjust="spacingAndGlyphs" style="stroke-width:0.08px">31</text>
<text x="786.5" y="499.4" font-size="13.3" textLength="49.0" lengthAdjust="spacingAndGlyphs" style="stroke-width:0.08px">January</text>
<text x="841.1" y="499.4" font-size="13.3" textLength="29.4" lengthAdjust="spacingAndGlyphs" style="stroke-width:0.08px">1973</text>
<text x="875.5" y="499.4" font-size="13.3" textLength="11.7" lengthAdjust="spacingAndGlyphs" style="stroke-width:0.08px">to</text>
<text x="891.5" y="499.4" font-size="13.3" textLength="15.8" lengthAdjust="spacingAndGlyphs" style="stroke-width:0.08px">30</text>
<text x="14" y="527.5" textLength="67.8" lengthAdjust="spacing" style="stroke-width:0.08px">April 2025.</text>
<text x="14" y="554.5" textLength="254.8" lengthAdjust="spacing" style="stroke-width:0.08px">Source: Bloomberg, World Gold Council</text>
</g>
<g fill="none" stroke="#cdcdcd">
<circle cx="804.8" cy="533.7" r="18.3" stroke-width="4.2"/>
</g>
<g fill="#cdcdcd">
<path d="M797.5 524.5h8.5c4 0 6 2 6 4.6 0 1.8-1 3.2-2.6 3.8 2.2.5 3.6 2.2 3.6 4.5 0 3.2-2.4 5.1-6.6 5.1h-8.9zM801 527.6v4.2h4.4c1.8 0 2.8-.8 2.8-2.1s-1-2.1-2.8-2.1zM801 534.7v4.7h5c2 0 3.1-.9 3.1-2.4s-1.100-2.300-3.100-2.300z"/>
<rect x="800.5" y="521.5" width="2" height="3.5"/><rect x="805" y="521.5" width="2" height="3.5"/><rect x="800.5" y="542" width="2" height="3.5"/><rect x="805" y="542" width="2" height="3.5"/>
<rect x="834.5" y="522.6" width="94" height="2.2"/>
<rect x="837.5" y="529.5" width="23" height="3"/><rect x="837.5" y="529.5" width="3.8" height="15.5"/><rect x="847" y="524" width="4" height="21"/><rect x="856.700" y="529.5" width="3.8" height="13"/>
<rect x="868" y="526.500" width="25" height="2.4"/><rect x="868" y="531" width="25" height="2.400"/><rect x="868" y="524" width="3.2" height="9.4"/><rect x="879" y="524" width="3.2" height="9.4"/><rect x="889.8" y="524" width="3.2" height="9.4"/>
<path d="M879 533l-11 8.500 2 3 11-8.500zM882 533l11 8.500-2 3-11-8.500z"/><rect x="875" y="538.5" width="3.200" height="6.5"/><rect x="884" y="538.5" width="3.200" height="6.500"/>
<rect x="899" y="524" width="4" height="21"/><rect x="924" y="524" width="4" height="21"/>
<path d="M905 529h3.200l8 15h-3.200zM913 529h3.200l-8 15h-3.200zM914.500 529h3.200l6 15h-3.200zM921 529h3l-7 15h-3z"/>
</g>
<g fill="#adadad">
<ellipse cx="629" cy="525.7" rx="11.300" ry="9.5"/><path d="M621.5 532.500l-2.600 6 6.800-3.300z"/>
<ellipse cx="641.6" cy="534" rx="10.4" ry="8.900" stroke="#fff" stroke-width="1.5"/><path d="M647 540.500l4.200 3.900-1.100-5.400z"/>
</g>
<g fill="#fff"><circle cx="625" cy="522.4" r="1.500"/><circle cx="633.2" cy="522.4" r="1.500"/><circle cx="638" cy="531.400" r="1.300"/><circle cx="645.3" cy="531.400" r="1.300"/></g>
<g fill="none" stroke="#adadad" stroke-width="2.1" stroke-linecap="butt" stroke-linejoin="miter">
<path d="M669 520.200L661.300 529.600M674 520.200L682.500 529.600M671.600 529.200L664.200 539.300L680.800 537.900M676 533L681.600 541.300"/>
<path d="M698.500 519.300L689.300 527.800M698.500 519.300L708.700 527.800M692.200 527.600V534L686.800 541.300M692.200 532.100L697.800 540.400M704.900 527.600V534L699.400 541.300M704.900 532.100L711.400 541"/>
<path d="M718.400 520.600H733V527.600H718.400ZM715.200 531.300H736.700M723 531.300L721 534.900H733.900L732.900 541.200H727.800"/>
<path d="M869.500 518.500L872.500 523M881 518.500L878 523M861.800 525.300H886.200M864.600 528.600V543.200M864.600 529.500H873V543.200M864.600 533.800H873M864.600 538.200H873M878.300 530V539.500M884.200 527.500V543.200L881.500 543.200"/>
<path d="M888.600 524.500H894.200V535H888.600ZM902 518V525.500M897.300 519.800L899 524M906.700 519.800L905 524M897.200 527.800V543.200M897.200 527.800H907V543.200L904.500 543.200M897.200 532.500H907M897.200 537.300H907"/>
</g>
<circle cx="751" cy="531.300" r="1.600" fill="#adadad"/>
<text x="768.2" y="539.600" font-size="25" fill="#adadad" style="stroke:#adadad;stroke-width:0.2px" textLength="90" lengthAdjust="spacing">Fintech</text>
</svg>
</body></html>
